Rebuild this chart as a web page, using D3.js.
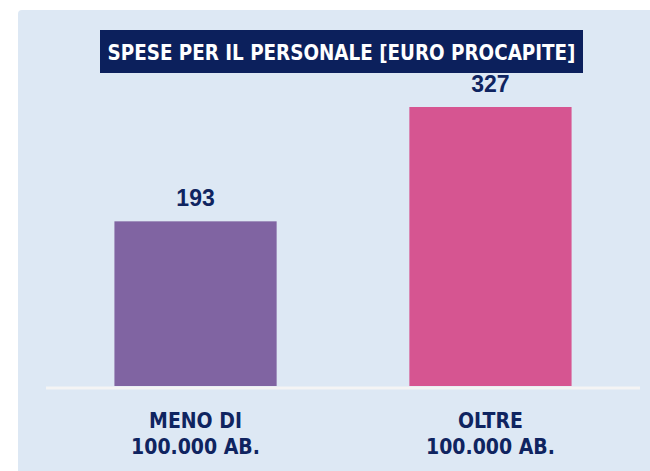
<!DOCTYPE html>
<html>
<head>
<meta charset="utf-8">
<script src="https://cdn.jsdelivr.net/npm/d3@7"></script>
<style>
  body { margin: 0; background: #ffffff; }
  svg { display: block; }
  .cond { font-family: 'DejaVu Sans', sans-serif; font-stretch: condensed; }
</style>
</head>
<body>
<div id="chart"></div>
<script>
const categories = ["MENO DI|100.000 AB.", "OLTRE|100.000 AB."];
const values = [193, 327];
const barColors = ["#8064a2", "#d65591"];
const chartTitle = "SPESE PER IL PERSONALE [EURO PROCAPITE]";

const width = 650, height = 471;
const navy = "#0f2460";

const svg = d3.select("#chart").append("svg")
  .attr("width", width)
  .attr("height", height);

// light blue panel
svg.append("rect")
  .attr("x", 18).attr("y", 10)
  .attr("width", 660).attr("height", 480)
  .attr("rx", 4)
  .attr("fill", "#dde8f4");

const xScale = d3.scaleBand()
  .domain(categories)
  .range([46, 640])
  .paddingInner(0.45)
  .paddingOuter(0.232);

const yScale = d3.scaleLinear()
  .domain([0, d3.max(values)])
  .range([386, 107]);

// baseline
svg.append("line")
  .attr("x1", 46).attr("x2", 640)
  .attr("y1", 388).attr("y2", 388)
  .attr("stroke", "#f4f4f4")
  .attr("stroke-width", 3);

svg.selectAll("rect.bar")
  .data(values)
  .enter()
  .append("rect")
    .attr("class", "bar")
    .attr("x", (d, i) => xScale(categories[i]))
    .attr("y", d => yScale(d))
    .attr("width", xScale.bandwidth())
    .attr("height", d => yScale(0) - yScale(d))
    .attr("fill", (d, i) => barColors[i]);

svg.selectAll("text.value")
  .data(values)
  .enter()
  .append("text")
    .attr("class", "value")
    .attr("x", (d, i) => xScale(categories[i]) + xScale.bandwidth() / 2)
    .attr("y", d => yScale(d) - 15)
    .attr("text-anchor", "middle")
    .attr("fill", navy)
    .style("font-family", "'Liberation Sans', Arial, sans-serif")
    .style("font-weight", "bold")
    .style("font-size", "23px")
    .text(d => d);

// category labels, two lines each
categories.forEach(c => {
  const lines = c.split("|");
  const cx = xScale(c) + xScale.bandwidth() / 2;
  lines.forEach((ln, j) => {
    svg.append("text")
      .attr("class", "cond")
      .attr("x", cx)
      .attr("y", 428 + j * 26)
      .attr("text-anchor", "middle")
      .attr("fill", navy)
      .style("font-size", "21px")
      .style("font-weight", "bold")
      .text(ln);
  });
});

// title box
svg.append("rect")
  .attr("x", 100).attr("y", 30)
  .attr("width", 483).attr("height", 43)
  .attr("fill", "#0c205c");

svg.append("text")
  .attr("class", "cond")
  .attr("x", 341.5)
  .attr("y", 60)
  .attr("text-anchor", "middle")
  .attr("fill", "#ffffff")
  .attr("textLength", 468)
  .attr("lengthAdjust", "spacingAndGlyphs")
  .style("font-size", "21px")
  .style("font-weight", "bold")
  .text(chartTitle);
</script>
</body>
</html>
